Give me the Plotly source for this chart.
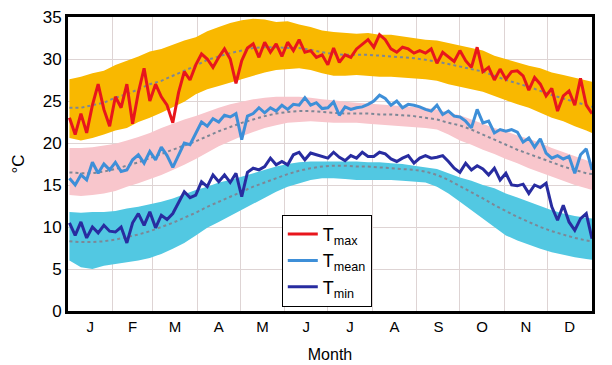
import plotly.graph_objects as go

# ---------------- data ----------------
line_days = list(range(1, 366, 4))            # 92 sample days
band_days = list(range(1, 362, 8)) + [365]    # 47 sample days

month_labels = ["J", "F", "M", "A", "M", "J", "J", "A", "S", "O", "N", "D"]
month_starts = [0, 31, 59, 90, 120, 151, 181, 212, 243, 273, 304, 334, 365]

tmax = [23.0, 21.0, 23.5, 21.2, 24.5, 27.0, 24.0, 22.0, 25.5, 24.2,
        27.0, 22.3, 26.0, 28.9, 25.0, 27.0, 25.5, 24.5, 22.4, 26.0,
        28.5, 27.5, 29.3, 30.6, 30.0, 29.0, 30.2, 31.2, 30.0, 27.1,
        29.8, 31.3, 31.8, 30.2, 32.0, 30.8, 31.8, 30.3, 32.0, 31.0,
        32.3, 30.8, 31.0, 30.2, 30.5, 29.3, 31.3, 29.6, 30.5, 30.2,
        31.2, 31.8, 32.3, 31.4, 32.9, 32.3, 31.2, 30.8, 31.4, 31.2,
        30.7, 31.0, 30.7, 31.2, 29.5, 30.8, 30.2, 29.7, 31.0, 29.8,
        29.0, 31.4, 28.5, 29.0, 27.5, 28.8, 27.6, 28.5, 28.6, 28.0,
        26.3, 27.8, 27.0, 25.6, 26.5, 23.8, 25.6, 26.2, 24.5, 27.7,
        24.5, 23.5]

tmean = [15.8, 15.0, 16.2, 15.6, 17.7, 16.4, 17.5, 16.8, 17.7, 16.6,
         16.8, 18.0, 18.6, 17.6, 19.0, 18.0, 19.5, 18.5, 17.1, 18.6,
         20.0, 19.8, 21.2, 22.5, 22.0, 22.9, 22.5, 23.3, 23.1, 23.5,
         20.4, 23.2, 23.5, 24.2, 23.6, 24.2, 23.8, 24.5, 24.0, 24.6,
         24.5, 25.4, 24.5, 24.8, 24.1, 24.2, 24.9, 23.3, 24.3, 24.0,
         24.2, 24.3, 24.6, 25.0, 25.7, 25.3, 24.5, 25.0, 24.2, 24.6,
         24.5, 24.3, 24.0, 23.8, 24.5, 23.4, 23.8, 23.2, 23.1, 22.6,
         21.8, 24.0, 22.4, 22.6, 21.2, 21.6, 21.4, 21.6, 21.3, 20.1,
         20.6, 19.5, 20.5, 18.8, 18.2, 18.5, 18.1, 18.4, 16.4, 18.6,
         19.3, 16.8]

tmin = [10.5, 9.0, 10.6, 8.7, 10.0, 9.3, 10.2, 9.5, 9.4, 10.0,
        8.1, 10.5, 11.6, 10.2, 11.8, 9.9, 11.4, 10.9, 11.6, 13.0,
        14.2, 13.5, 13.8, 15.4, 14.8, 16.2, 15.4, 16.2, 15.3, 16.4,
        13.6, 16.5, 17.0, 16.8, 17.2, 18.2, 17.4, 17.8, 17.4, 18.6,
        18.9, 18.0, 18.8, 18.6, 18.4, 18.2, 18.9, 18.3, 17.9, 18.5,
        18.2, 18.9, 18.4, 18.4, 18.9, 18.7, 18.1, 17.8, 18.2, 18.5,
        17.6, 18.2, 18.5, 18.2, 18.3, 18.5, 17.8, 17.0, 16.5, 17.6,
        16.8, 17.3, 16.9, 16.2, 17.0, 15.6, 16.4, 15.0, 14.9, 15.1,
        14.0, 15.0, 14.7, 15.2, 12.4, 10.8, 12.6, 10.6, 9.6, 11.0,
        11.6, 8.6]

tmax_hi = [27.6, 27.9, 28.3, 28.6, 29.3, 29.8, 30.3, 30.9, 31.2, 31.7,
           32.2, 32.6, 33.3, 33.8, 34.3, 34.6, 34.8, 34.7, 34.4, 34.5,
           34.1, 33.8, 33.4, 33.2, 33.1, 33.0, 33.1, 32.9, 32.9, 32.7,
           32.5, 32.3, 32.2, 31.9, 31.6, 31.3, 31.0, 30.4, 30.0, 29.6,
           29.2, 28.9, 28.4, 28.1, 27.8, 27.5, 27.3]
tmax_lo = [20.6, 20.3, 20.6, 21.0, 21.5, 21.8, 22.5, 23.0, 23.6, 24.3,
           24.9, 25.8, 26.4, 26.8, 27.2, 27.6, 28.0, 28.4, 28.7, 28.8,
           28.9, 28.7, 28.3, 28.0, 28.0, 28.1, 28.0, 27.9, 27.9, 27.8,
           27.7, 27.6, 27.4, 27.0, 26.7, 26.4, 26.1, 25.6, 25.1, 24.6,
           24.2, 23.6, 23.0, 22.6, 22.0, 21.5, 21.2]
tmax_clim = [24.2, 24.2, 24.5, 24.8, 25.4, 25.8, 26.4, 27.0, 27.4, 28.0,
             28.6, 29.2, 29.9, 30.3, 30.7, 31.0, 31.3, 31.4, 31.4, 31.3,
             31.3, 31.1, 30.8, 30.6, 30.5, 30.5, 30.5, 30.4, 30.3, 30.2,
             30.1, 29.9, 29.7, 29.4, 29.1, 28.8, 28.5, 28.0, 27.5, 27.1,
             26.7, 26.2, 25.7, 25.3, 24.9, 24.5, 24.3]

tmean_hi = [19.4, 19.4, 19.5, 19.7, 19.9, 20.3, 20.7, 21.2, 21.8, 22.3,
            22.8, 23.2, 23.7, 24.2, 24.6, 24.9, 25.2, 25.4, 25.5, 25.5,
            25.5, 25.4, 25.2, 25.1, 24.9, 24.8, 24.7, 24.6, 24.5, 24.4,
            24.3, 24.2, 24.0, 23.6, 23.3, 22.8, 22.3, 21.8, 21.4, 20.9,
            20.5, 20.0, 19.4, 18.9, 18.4, 17.9, 17.7]
tmean_lo = [13.8, 13.7, 13.8, 14.0, 14.3, 14.8, 15.2, 15.7, 16.2, 16.8,
            17.4, 18.1, 18.9, 19.6, 20.2, 20.8, 21.3, 21.8, 22.1, 22.4,
            22.5, 22.6, 22.5, 22.4, 22.4, 22.4, 22.3, 22.2, 22.1, 22.0,
            21.9, 21.8, 21.6, 21.0, 20.3, 19.8, 19.2, 18.7, 18.1, 17.6,
            17.0, 16.5, 16.0, 15.5, 15.0, 14.6, 14.4]
tmean_clim = [16.5, 16.4, 16.4, 16.6, 16.9, 17.3, 17.7, 18.2, 18.7, 19.2,
              19.7, 20.2, 20.8, 21.4, 21.9, 22.4, 22.8, 23.2, 23.5, 23.7,
              23.8, 23.8, 23.7, 23.6, 23.5, 23.5, 23.5, 23.4, 23.4, 23.3,
              23.2, 23.0, 22.8, 22.4, 22.1, 21.6, 21.0, 20.4, 19.8, 19.2,
              18.7, 18.2, 17.7, 17.2, 16.8, 16.4, 16.3]

tmin_hi = [11.8, 11.7, 11.8, 11.8, 11.9, 12.2, 12.4, 12.7, 13.0, 13.4,
           13.9, 14.4, 14.8, 15.3, 15.6, 16.0, 16.4, 16.8, 17.2, 17.5,
           17.7, 17.8, 17.8, 17.8, 17.8, 17.8, 17.7, 17.7, 17.6, 17.5,
           17.3, 17.1, 16.9, 16.4, 15.9, 15.5, 15.0, 14.6, 14.0, 13.5,
           13.0, 12.5, 12.0, 11.6, 11.3, 11.1, 11.0]
tmin_lo = [6.0, 5.2, 5.0, 5.4, 5.6, 5.8, 6.0, 6.3, 6.8, 7.4,
           8.1, 9.0, 9.9, 10.6, 11.3, 12.0, 12.8, 13.5, 14.2, 14.8,
           15.2, 15.6, 15.8, 15.8, 15.7, 15.6, 15.6, 15.6, 15.6, 15.5,
           15.4, 15.3, 14.8, 14.0, 13.0, 12.0, 11.0, 10.0, 9.0, 8.4,
           7.9, 7.4, 7.0, 6.7, 6.4, 6.2, 6.1]
tmin_clim = [8.3, 8.2, 8.2, 8.3, 8.5, 8.8, 9.1, 9.5, 10.0, 10.5,
             11.1, 11.7, 12.4, 13.0, 13.6, 14.2, 14.8, 15.3, 15.8, 16.3,
             16.7, 17.0, 17.2, 17.3, 17.3, 17.2, 17.2, 17.1, 17.0, 16.9,
             16.8, 16.6, 16.2, 15.6, 14.9, 14.2, 13.4, 12.6, 11.9, 11.2,
             10.6, 10.0, 9.5, 9.1, 8.7, 8.4, 8.3]

for arr in (tmax, tmean, tmin):
    assert len(arr) == len(line_days), len(arr)
for arr in (tmax_hi, tmax_lo, tmax_clim, tmean_hi, tmean_lo, tmean_clim,
            tmin_hi, tmin_lo, tmin_clim):
    assert len(arr) == len(band_days), len(arr)

# ---------------- figure ----------------
fig = go.Figure()

bands = [
    (tmax_hi, tmax_lo, "rgb(249,184,0)"),
    (tmean_hi, tmean_lo, "rgb(248,198,204)"),
    (tmin_hi, tmin_lo, "rgb(82,200,226)"),
]
for hi, lo, col in bands:
    fig.add_trace(go.Scatter(x=band_days, y=hi, mode="lines",
                             line=dict(width=0, color=col),
                             showlegend=False, hoverinfo="skip"))
    fig.add_trace(go.Scatter(x=band_days, y=lo, mode="lines",
                             line=dict(width=0, color=col),
                             fill="tonexty", fillcolor=col,
                             showlegend=False, hoverinfo="skip"))

for clim in (tmax_clim, tmean_clim, tmin_clim):
    fig.add_trace(go.Scatter(x=band_days, y=clim, mode="lines",
                             line=dict(width=2, color="rgb(125,135,150)", dash="dot"),
                             showlegend=False, hoverinfo="skip"))

series = [
    (tmax, "rgb(232,22,28)", "T<sub>max</sub>"),
    (tmean, "rgb(62,143,216)", "T<sub>mean</sub>"),
    (tmin, "rgb(40,44,160)", "T<sub>min</sub>"),
]
for vals, col, name in series:
    fig.add_trace(go.Scatter(x=line_days, y=vals, mode="lines",
                             line=dict(width=3, color=col), name=name))

mid = [(month_starts[i] + month_starts[i + 1]) / 2 for i in range(12)]
grid_col = "rgb(222,212,212)"

fig.update_layout(
    width=612, height=365,
    margin=dict(l=68, r=20, t=17, b=54),
    paper_bgcolor="white", plot_bgcolor="white",
    font=dict(family="Liberation Sans, Arial, sans-serif", color="black", size=16),
    showlegend=True,
    legend=dict(x=0.408, y=0.327, xanchor="left", yanchor="top",
                traceorder="normal",
                bgcolor="white", bordercolor="black", borderwidth=1,
                font=dict(size=18), tracegroupgap=0),
    xaxis=dict(range=[0, 365], tickmode="array", tickvals=mid, ticktext=month_labels,
               showgrid=False, zeroline=False, ticks="", automargin=False,
               showline=True, linecolor="black", linewidth=3, mirror=True,
               tickfont=dict(size=15),
               title=dict(text="Month", font=dict(size=16), standoff=15),
               minor=dict(tickmode="array", tickvals=month_starts[1:-1],
                          showgrid=True, gridcolor=grid_col, gridwidth=1, ticks="")),
    yaxis=dict(range=[0, 35], tickmode="array", tickvals=[0, 5, 10, 15, 20, 25, 30, 35],
               showgrid=True, gridcolor=grid_col, gridwidth=1, zeroline=False, ticks="",
               automargin=False,
               showline=True, linecolor="black", linewidth=3, mirror=True,
               tickfont=dict(size=17),
               title=dict(text="°C", font=dict(size=17), standoff=14)),
)

fig.write_html("out.html", config={"displayModeBar": False},
               post_script="document.body.style.margin='0';document.body.style.padding='0';")
